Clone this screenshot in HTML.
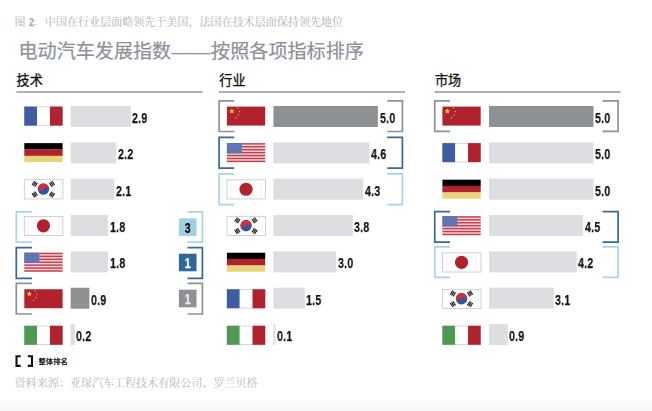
<!DOCTYPE html>
<html lang="zh">
<head>
<meta charset="utf-8">
<title>电动汽车发展指数——按照各项指标排序</title>
<style>
html,body{margin:0;padding:0;background:#fff;}
body{width:652px;height:411px;overflow:hidden;position:relative;font-family:"Liberation Sans",sans-serif;}
#page{position:absolute;left:0;top:0;width:652px;height:411px;background:linear-gradient(to bottom,#fff 0,#fff 399px,#f9f9f9 405px,#f6f6f6 411px);overflow:hidden;filter:blur(0.4px);}
svg{position:absolute;left:0;top:0;overflow:visible;}
.n{position:absolute;font-family:"Liberation Sans",sans-serif;font-weight:bold;font-size:14px;line-height:18px;height:18px;color:#111;white-space:nowrap;letter-spacing:0.3px;transform-origin:0 50%;transform:scaleX(0.76);will-change:transform;-webkit-text-stroke:0.25px currentColor;}
.n.rk{width:17.6px;text-align:center;transform-origin:50% 50%;}
.x{position:absolute;margin:0;padding:0;font-weight:normal;white-space:nowrap;color:transparent;}
.cap2{position:absolute;left:14.1px;top:2.4px;font-weight:bold;font-size:11.2px;line-height:14px;color:#a9a9a9;transform-origin:0 50%;transform:scaleX(0.78);will-change:transform;-webkit-text-stroke:0.25px currentColor;}
</style>
</head>
<body>
<div id="page">
<svg id="gfx" width="652" height="411" viewBox="0 0 652 411">
<defs><symbol id="f-fr" width="38.3" height="19.0" viewBox="0 0 38.3 19.0" overflow="visible"><rect width="38.3" height="19.0" fill="#fff"/><rect x="0.2" y="0.2" width="37.9" height="18.6" fill="none" stroke="#d2d2d7" stroke-width="0.9"/><rect width="12.67" height="19.0" fill="#3f5ba1"/><rect x="25.63" width="12.67" height="19.0" fill="#b0222e"/></symbol><symbol id="f-it" width="38.3" height="19.0" viewBox="0 0 38.3 19.0" overflow="visible"><rect width="38.3" height="19.0" fill="#fff"/><rect x="0.2" y="0.2" width="37.9" height="18.6" fill="none" stroke="#d2d2d7" stroke-width="0.9"/><rect width="12.67" height="19.0" fill="#4e9a51"/><rect x="25.63" width="12.67" height="19.0" fill="#b0222e"/></symbol><symbol id="f-de" width="38.3" height="19.0" viewBox="0 0 38.3 19.0" overflow="visible"><rect width="38.3" height="6.33" fill="#000"/><rect y="6.13" width="38.3" height="6.73" fill="#b0222e"/><rect y="12.67" width="38.3" height="6.33" fill="#e9d479"/></symbol><symbol id="f-jp" width="38.3" height="19.0" viewBox="0 0 38.3 19.0" overflow="visible"><rect x="0" y="0.2" width="38.599999999999994" height="19.1" fill="#fff" stroke="#c4c4c9" stroke-width="0.8"/><path d="M4.1 0.5V19.0M34.0 0.5V19.0" stroke="#e4e4e7" stroke-width="0.5"/><circle cx="19.15" cy="9.6" r="6.6" fill="#b0222e"/></symbol><symbol id="f-cn" width="38.3" height="19.0" viewBox="0 0 38.3 19.0" overflow="visible"><rect width="38.3" height="19.0" fill="#b0222e"/><polygon points="5.00,1.60 5.71,3.63 7.85,3.67 6.14,4.97 6.76,7.03 5.00,5.80 3.24,7.03 3.86,4.97 2.15,3.67 4.29,3.63" fill="#f2d544"/><polygon points="11.34,0.66 11.33,1.38 12.00,1.63 11.32,1.85 11.28,2.56 10.86,1.98 10.17,2.16 10.60,1.59 10.21,0.98 10.89,1.22" fill="#f2d544"/><polygon points="13.34,4.23 13.09,4.90 13.63,5.37 12.91,5.34 12.63,6.00 12.44,5.31 11.73,5.24 12.33,4.85 12.17,4.15 12.73,4.60" fill="#f2d544"/><polygon points="11.70,7.40 11.94,8.08 12.65,8.09 12.08,8.52 12.29,9.21 11.70,8.80 11.11,9.21 11.32,8.52 10.75,8.09 11.46,8.08" fill="#f2d544"/><polygon points="9.64,10.26 9.63,10.98 10.30,11.23 9.62,11.45 9.58,12.16 9.16,11.58 8.47,11.76 8.90,11.19 8.51,10.58 9.19,10.82" fill="#f2d544"/></symbol><symbol id="f-us" width="38.3" height="19.0" viewBox="0 0 38.3 19.0" overflow="visible"><rect width="38.3" height="19.0" fill="#f4d3d8"/><rect y="0.00" width="38.3" height="1.46" fill="#c5404f"/><rect y="2.92" width="38.3" height="1.46" fill="#c5404f"/><rect y="5.85" width="38.3" height="1.46" fill="#c5404f"/><rect y="8.77" width="38.3" height="1.46" fill="#c5404f"/><rect y="11.69" width="38.3" height="1.46" fill="#c5404f"/><rect y="14.62" width="38.3" height="1.46" fill="#c5404f"/><rect y="17.54" width="38.3" height="1.46" fill="#c5404f"/><rect width="15" height="10.23" fill="#5a72b3"/><circle cx="1.50" cy="1.40" r="0.42" fill="#8fa0d0"/><circle cx="3.90" cy="1.40" r="0.42" fill="#8fa0d0"/><circle cx="6.30" cy="1.40" r="0.42" fill="#8fa0d0"/><circle cx="8.70" cy="1.40" r="0.42" fill="#8fa0d0"/><circle cx="11.10" cy="1.40" r="0.42" fill="#8fa0d0"/><circle cx="13.50" cy="1.40" r="0.42" fill="#8fa0d0"/><circle cx="2.70" cy="3.85" r="0.42" fill="#8fa0d0"/><circle cx="5.10" cy="3.85" r="0.42" fill="#8fa0d0"/><circle cx="7.50" cy="3.85" r="0.42" fill="#8fa0d0"/><circle cx="9.90" cy="3.85" r="0.42" fill="#8fa0d0"/><circle cx="12.30" cy="3.85" r="0.42" fill="#8fa0d0"/><circle cx="14.70" cy="3.85" r="0.42" fill="#8fa0d0"/><circle cx="1.50" cy="6.30" r="0.42" fill="#8fa0d0"/><circle cx="3.90" cy="6.30" r="0.42" fill="#8fa0d0"/><circle cx="6.30" cy="6.30" r="0.42" fill="#8fa0d0"/><circle cx="8.70" cy="6.30" r="0.42" fill="#8fa0d0"/><circle cx="11.10" cy="6.30" r="0.42" fill="#8fa0d0"/><circle cx="13.50" cy="6.30" r="0.42" fill="#8fa0d0"/><circle cx="2.70" cy="8.75" r="0.42" fill="#8fa0d0"/><circle cx="5.10" cy="8.75" r="0.42" fill="#8fa0d0"/><circle cx="7.50" cy="8.75" r="0.42" fill="#8fa0d0"/><circle cx="9.90" cy="8.75" r="0.42" fill="#8fa0d0"/><circle cx="12.30" cy="8.75" r="0.42" fill="#8fa0d0"/><circle cx="14.70" cy="8.75" r="0.42" fill="#8fa0d0"/></symbol><symbol id="f-kr" width="38.3" height="19.0" viewBox="0 0 38.3 19.0" overflow="visible"><rect x="0" y="0.1" width="38.599999999999994" height="19.2" fill="#fff" stroke="#c6c6cb" stroke-width="0.8"/><path d="M36.0 0.5V18.5" stroke="#e4e4e6" stroke-width="0.5"/><g transform="rotate(8 19.15 9.5)"><circle cx="19.15" cy="9.5" r="5.7" fill="#2f56a2"/><path d="M13.45 9.5A5.7 5.7 0 0 1 24.849999999999998 9.5A2.85 1.71 0 0 0 19.15 9.5A2.85 1.71 0 0 1 13.45 9.5Z" fill="#cf303b"/></g><g transform="translate(10.45 4.2) rotate(33)" fill="#262626"><rect x="-2.22" y="-2.4" width="1.24" height="4.8"/><rect x="-0.62" y="-2.4" width="1.24" height="4.8"/><rect x="0.98" y="-2.4" width="1.24" height="4.8"/></g><g transform="translate(27.65 4.2) rotate(-33)" fill="#262626"><rect x="-2.22" y="-2.4" width="1.24" height="4.8"/><rect x="-0.62" y="-2.4" width="1.24" height="4.8"/><rect x="0.98" y="-2.4" width="1.24" height="4.8"/></g><g transform="translate(10.45 14.9) rotate(-33)" fill="#262626"><rect x="-2.22" y="-2.4" width="1.24" height="4.8"/><rect x="-0.62" y="-2.4" width="1.24" height="4.8"/><rect x="0.98" y="-2.4" width="1.24" height="4.8"/></g><g transform="translate(27.65 14.9) rotate(33)" fill="#262626"><rect x="-2.22" y="-2.4" width="1.24" height="4.8"/><rect x="-0.62" y="-2.4" width="1.24" height="4.8"/><rect x="0.98" y="-2.4" width="1.24" height="4.8"/></g></symbol></defs>
<line x1="16.4" y1="91.95" x2="202.5" y2="91.95" stroke="#9597a3" stroke-width="1.5"/>
<use href="#f-fr" x="24.3" y="106.6"/>
<rect x="70.7" y="106" width="60.17" height="21" fill="#dddee1"/>
<use href="#f-de" x="24.3" y="143.13"/>
<rect x="70.7" y="142.35" width="45.65" height="21" fill="#dddee1"/>
<use href="#f-kr" x="24.3" y="179.66"/>
<rect x="70.7" y="178.7" width="43.58" height="21" fill="#dddee1"/>
<use href="#f-jp" x="24.3" y="216.19"/>
<rect x="70.7" y="215.05" width="37.35" height="21" fill="#dddee1"/>
<path d="M32 211.8H16.3V242.2H32" fill="none" stroke="#a8d5e6" stroke-width="1.7"/>
<path d="M187.5 211.8H202.4V242.2H187.5" fill="none" stroke="#a8d5e6" stroke-width="1.7"/>
<rect x="178.9" y="218.35" width="17.6" height="17.6" fill="#a1d0e4"/>
<use href="#f-us" x="24.3" y="252.72"/>
<rect x="70.7" y="251.4" width="37.35" height="21" fill="#dddee1"/>
<path d="M32 247.6H16.3V278.4H32" fill="none" stroke="#34699a" stroke-width="1.7"/>
<path d="M187.5 247.6H202.4V278.4H187.5" fill="none" stroke="#34699a" stroke-width="1.7"/>
<rect x="178.9" y="253.7" width="17.6" height="17.6" fill="#2f6797"/>
<use href="#f-cn" x="24.3" y="289.25"/>
<rect x="70.7" y="287.75" width="18.68" height="21" fill="#8e9194"/>
<path d="M32 283.3H16.3V314H32" fill="none" stroke="#8d919b" stroke-width="1.7"/>
<path d="M187.5 283.3H202.4V314H187.5" fill="none" stroke="#8d919b" stroke-width="1.7"/>
<rect x="178.9" y="289.7" width="17.6" height="17.6" fill="#8d9094"/>
<use href="#f-it" x="24.3" y="325.78"/>
<rect x="70.7" y="324.1" width="4.15" height="21" fill="#dddee1"/>
<line x1="218.9" y1="91.95" x2="405" y2="91.95" stroke="#9597a3" stroke-width="1.5"/>
<use href="#f-cn" x="226.9" y="106.6"/>
<rect x="273.4" y="106" width="104.5" height="21" fill="#8e9194"/>
<path d="M234.2 100.85H219.1V131.5H234.2" fill="none" stroke="#8d919b" stroke-width="1.7"/>
<path d="M387.2 100.85H402.4V131.5H387.2" fill="none" stroke="#8d919b" stroke-width="1.7"/>
<use href="#f-us" x="226.9" y="143.13"/>
<rect x="273.4" y="142.35" width="96.14" height="21" fill="#dddee1"/>
<path d="M234.2 137.45H219.1V168.05H234.2" fill="none" stroke="#34699a" stroke-width="1.7"/>
<path d="M387.2 137.45H402.4V168.05H387.2" fill="none" stroke="#34699a" stroke-width="1.7"/>
<use href="#f-jp" x="226.9" y="179.66"/>
<rect x="273.4" y="178.7" width="89.87" height="21" fill="#dddee1"/>
<path d="M234.2 173.9H219.1V204.65H234.2" fill="none" stroke="#a8d5e6" stroke-width="1.7"/>
<path d="M387.2 173.9H402.4V204.65H387.2" fill="none" stroke="#a8d5e6" stroke-width="1.7"/>
<use href="#f-kr" x="226.9" y="216.19"/>
<rect x="273.4" y="215.05" width="79.42" height="21" fill="#dddee1"/>
<use href="#f-de" x="226.9" y="252.72"/>
<rect x="273.4" y="251.4" width="62.7" height="21" fill="#dddee1"/>
<use href="#f-fr" x="226.9" y="289.25"/>
<rect x="273.4" y="287.75" width="31.35" height="21" fill="#dddee1"/>
<use href="#f-it" x="226.9" y="325.78"/>
<rect x="273.4" y="324.1" width="2.09" height="21" fill="#dddee1"/>
<line x1="434.55" y1="91.95" x2="620.7" y2="91.95" stroke="#9597a3" stroke-width="1.5"/>
<use href="#f-cn" x="442.4" y="106.6"/>
<rect x="489" y="106" width="104.5" height="21" fill="#8e9194"/>
<path d="M449.95 100.9H434.75V131.4H449.95" fill="none" stroke="#8d919b" stroke-width="1.7"/>
<path d="M602.5 100.9H618.1V131.4H602.5" fill="none" stroke="#8d919b" stroke-width="1.7"/>
<use href="#f-fr" x="442.4" y="143.13"/>
<rect x="489" y="142.35" width="104.5" height="21" fill="#dddee1"/>
<use href="#f-de" x="442.4" y="179.66"/>
<rect x="489" y="178.7" width="104.5" height="21" fill="#dddee1"/>
<use href="#f-us" x="442.4" y="216.19"/>
<rect x="489" y="215.05" width="94.05" height="21" fill="#dddee1"/>
<path d="M449.95 211.6H434.75V242.1H449.95" fill="none" stroke="#34699a" stroke-width="1.7"/>
<path d="M602.5 211.6H618.1V242.1H602.5" fill="none" stroke="#34699a" stroke-width="1.7"/>
<use href="#f-jp" x="442.4" y="252.72"/>
<rect x="489" y="251.4" width="87.78" height="21" fill="#dddee1"/>
<path d="M449.95 246.9H434.75V277.4H449.95" fill="none" stroke="#a8d5e6" stroke-width="1.7"/>
<path d="M602.5 246.9H618.1V277.4H602.5" fill="none" stroke="#a8d5e6" stroke-width="1.7"/>
<use href="#f-kr" x="442.4" y="289.25"/>
<rect x="489" y="287.75" width="64.79" height="21" fill="#dddee1"/>
<use href="#f-it" x="442.4" y="325.78"/>
<rect x="489" y="324.1" width="18.81" height="21" fill="#dddee1"/>
<path d="M20.7 356.3H16.5V365.9H20.7" fill="none" stroke="#111" stroke-width="2.1"/>
<path d="M27.8 356.3H32.0V365.9H27.8" fill="none" stroke="#111" stroke-width="2.1"/>
</svg>
<svg id="txt" width="652" height="411" viewBox="0 0 652 411">
<text x="14.5" y="25.7" font-size="11.05" fill="#b0b0b0" font-family="'Liberation Serif','Noto Serif CJK SC',serif">图</text>
<text x="32.4" y="25.7" font-size="11.05" fill="#b0b0b0" font-family="'Liberation Serif','Noto Serif CJK SC',serif">：</text>
<text x="44.85" y="25.7" font-size="11.05" fill="#b0b0b0" font-family="'Liberation Serif','Noto Serif CJK SC',serif">中国在行业层面略领先于美国，法国在技术层面保持领先地位</text>
<text x="18.45" y="58" font-size="19.1" fill="#8e909b" stroke="#8e909b" stroke-width="0.23" font-family="'Liberation Sans','Noto Sans CJK SC',sans-serif">电动汽车发展指数</text>
<text x="171.2" y="58" font-size="19.1" fill="#8e909b" textLength="40.2" lengthAdjust="spacingAndGlyphs" font-family="'Liberation Sans','Noto Sans CJK SC',sans-serif">——</text>
<text x="211.1" y="58" font-size="19.1" fill="#8e909b" stroke="#8e909b" stroke-width="0.23" font-family="'Liberation Sans','Noto Sans CJK SC',sans-serif">按照各项指标排序</text>
<text x="16.6" y="84.6" font-size="13.1" fill="#111" stroke="#111" stroke-width="0.29" font-family="'Liberation Sans','Noto Sans CJK SC',sans-serif">技术</text>
<text x="219.3" y="84.6" font-size="13.1" fill="#111" stroke="#111" stroke-width="0.29" font-family="'Liberation Sans','Noto Sans CJK SC',sans-serif">行业</text>
<text x="435" y="84.6" font-size="13.1" fill="#111" stroke="#111" stroke-width="0.29" font-family="'Liberation Sans','Noto Sans CJK SC',sans-serif">市场</text>
<text x="38.5" y="364" font-size="7.35" font-weight="bold" fill="#111" font-family="'Liberation Sans','Noto Sans CJK SC',sans-serif">整体排名</text>
<text x="14.55" y="387.1" font-size="11.05" fill="#b6b6b6" font-family="'Liberation Serif','Noto Serif CJK SC',serif">资料来源：亚琛汽车工程技术有限公司、罗兰贝格</text>
</svg>
<p class="x" style="left:14.5px;top:13px;font-size:11.05px;line-height:18px">图 <span class="cap2">2</span>：中国在行业层面略领先于美国，法国在技术层面保持领先地位</p>
<h1 class="x" style="left:18.5px;top:38px;font-size:19px;line-height:26px">电动汽车发展指数——按照各项指标排序</h1>
<h2 class="x" style="left:16.6px;top:70px;font-size:13.3px;line-height:18px">技术</h2>
<h2 class="x" style="left:219.3px;top:70px;font-size:13.3px;line-height:18px">行业</h2>
<h2 class="x" style="left:435px;top:70px;font-size:13.3px;line-height:18px">市场</h2>
<p class="x" style="left:15px;top:355px;font-size:7.35px;line-height:12px">[ ] 整体排名</p>
<p class="x" style="left:14.5px;top:374px;font-size:11.05px;line-height:18px">资料来源：亚琛汽车工程技术有限公司、罗兰贝格</p>
<span class="n" style="left:132.47px;top:108.8px">2.9</span>
<span class="n" style="left:117.95px;top:145.15px">2.2</span>
<span class="n" style="left:115.88px;top:181.5px">2.1</span>
<span class="n" style="left:109.65px;top:217.85px">1.8</span>
<span class="n rk" style="left:178.9px;top:218.85px;color:#000">3</span>
<span class="n" style="left:109.65px;top:254.2px">1.8</span>
<span class="n rk" style="left:178.9px;top:254.2px;color:#fff">1</span>
<span class="n" style="left:90.97px;top:290.55px">0.9</span>
<span class="n rk" style="left:178.9px;top:290.2px;color:#ececec">1</span>
<span class="n" style="left:76.45px;top:326.9px">0.2</span>
<span class="n" style="left:379.5px;top:108.8px">5.0</span>
<span class="n" style="left:371.14px;top:145.15px">4.6</span>
<span class="n" style="left:364.87px;top:181.5px">4.3</span>
<span class="n" style="left:354.42px;top:217.85px">3.8</span>
<span class="n" style="left:337.7px;top:254.2px">3.0</span>
<span class="n" style="left:306.35px;top:290.55px">1.5</span>
<span class="n" style="left:277.09px;top:326.9px">0.1</span>
<span class="n" style="left:595.1px;top:108.8px">5.0</span>
<span class="n" style="left:595.1px;top:145.15px">5.0</span>
<span class="n" style="left:595.1px;top:181.5px">5.0</span>
<span class="n" style="left:584.65px;top:217.85px">4.5</span>
<span class="n" style="left:578.38px;top:254.2px">4.2</span>
<span class="n" style="left:555.39px;top:290.55px">3.1</span>
<span class="n" style="left:509.41px;top:326.9px">0.9</span>
</div>
</body>
</html>
